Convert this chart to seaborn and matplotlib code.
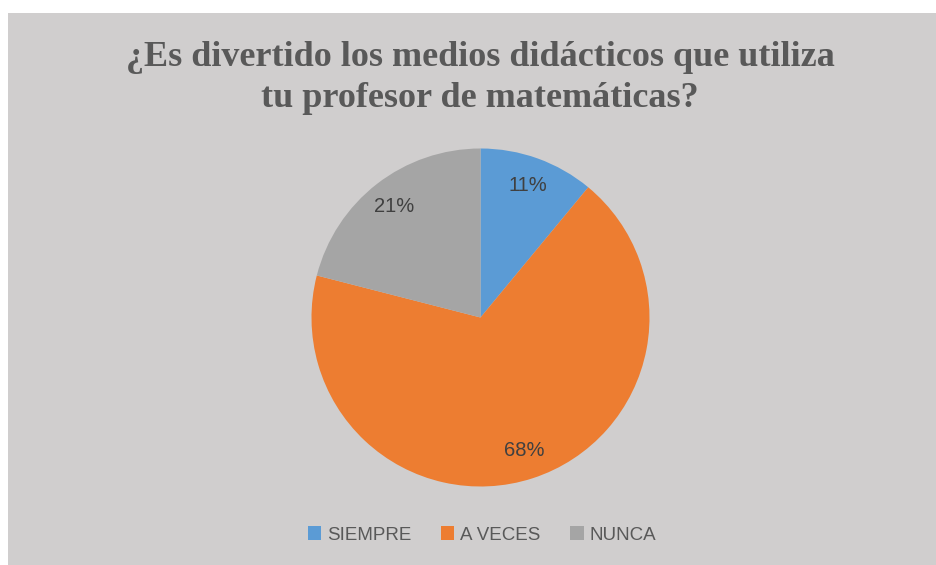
import matplotlib
matplotlib.use("Agg")
import matplotlib.pyplot as plt
import seaborn as sns
from matplotlib.patches import Rectangle

# data
categories = ["SIEMPRE", "A VECES", "NUNCA"]
percentages = [11, 68, 21]
colors = sns.color_palette(["#5b9bd5", "#ed7d31", "#a5a5a5"])
title = "¿Es divertido los medios didácticos que utiliza\ntu profesor de matemáticas?"

sns.set_style("white")
W, H = 937, 565
fig = plt.figure(figsize=(W / 100, H / 100), dpi=100, facecolor="white")

# gray chart area
bg = Rectangle((8 / W, 0), 1 - 8 / W, 1 - 13 / H, transform=fig.transFigure,
               facecolor="#d0cece", edgecolor="none", zorder=-10)
fig.patches.append(bg)

# pie axes: center (480.5, 317.5), radius 169 px
r = 169
cx, cy = 480.5, 317.5
ax = fig.add_axes([(cx - r) / W, (H - cy - r) / H, 2 * r / W, 2 * r / H])
ax.set_zorder(1)
ax.patch.set_visible(False)
wedges, texts, autotexts = ax.pie(
    percentages, colors=colors, startangle=90, counterclock=False,
    autopct="%d%%", pctdistance=0.83, radius=1,
    textprops=dict(color="#404040", fontsize=14.5, family="Liberation Sans"),
    wedgeprops=dict(linewidth=0))
ax.set_xlim(-1, 1)
ax.set_ylim(-1, 1)
ax.set_aspect("equal")
ax.axis("off")

fig.text(480 / W, 1 - 78 / H, title, ha="center", va="center",
         fontsize=26, fontweight="bold", color="#595959",
         family="Liberation Serif", linespacing=1.32)

leg = fig.legend(wedges, categories, loc="center", bbox_to_anchor=(482 / W, 1 - 535 / H),
                 ncol=3, frameon=False, handlelength=0.7, handleheight=0.7,
                 handletextpad=0.3, columnspacing=1.6,
                 prop=dict(family="Liberation Sans", size=13.5))
for t in leg.get_texts():
    t.set_color("#595959")

fig.savefig("out.png", dpi=100, facecolor="white")
